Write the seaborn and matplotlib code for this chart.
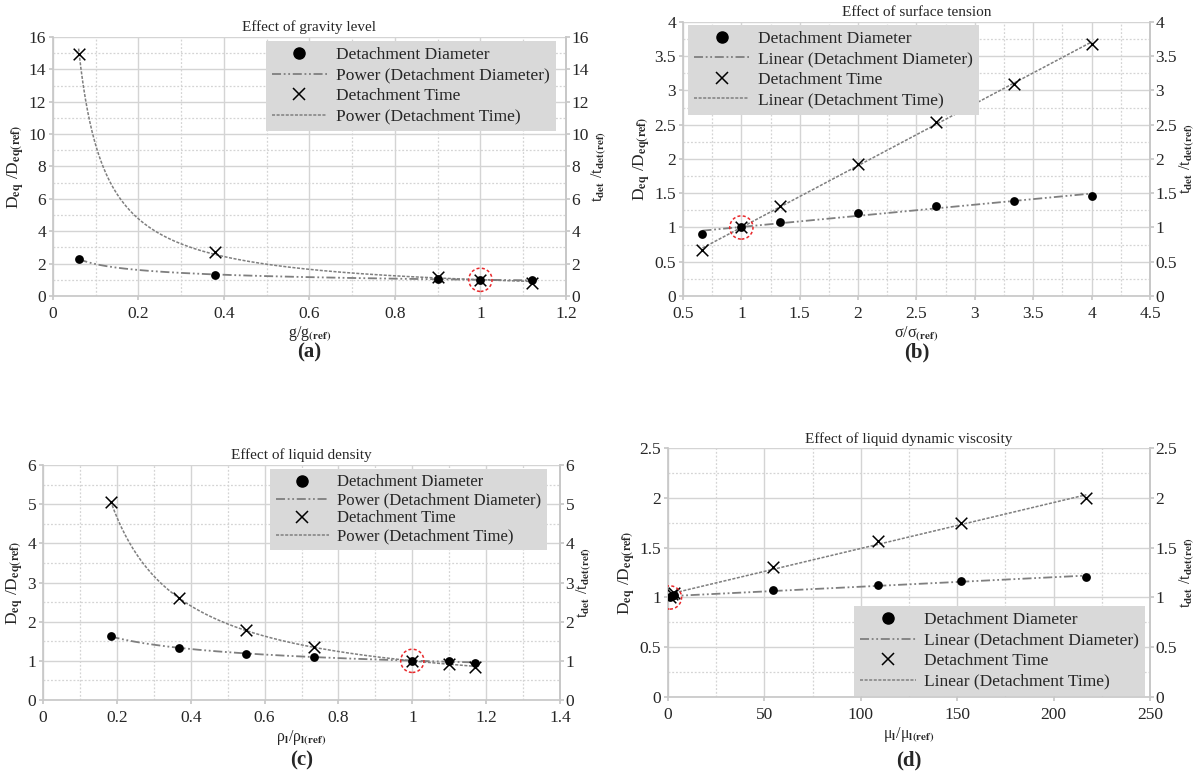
import numpy as np
import pandas as pd
import seaborn as sns
import matplotlib.pyplot as plt
from matplotlib.lines import Line2D
from matplotlib.ticker import MultipleLocator

# (a) gravity level
g_ratio = [0.06, 0.38, 0.90, 1.00, 1.12]
g_diam = [2.30, 1.31, 1.03, 1.00, 0.98]
g_time = [14.93, 2.69, 1.19, 1.00, 0.82]

# (b) surface tension
s_ratio = [0.667, 1.0, 1.333, 2.0, 2.667, 3.333, 4.0]
s_diam = [0.91, 1.00, 1.08, 1.21, 1.31, 1.385, 1.46]
s_time = [0.666, 1.00, 1.31, 1.93, 2.54, 3.10, 3.68]

# (c) liquid density
r_ratio = [0.183, 0.367, 0.55, 0.733, 1.0, 1.1, 1.17]
r_diam = [1.63, 1.33, 1.18, 1.10, 1.00, 0.99, 0.955]
r_time = [5.05, 2.60, 1.80, 1.36, 1.00, 0.91, 0.85]

# (d) liquid dynamic viscosity
m_ratio = [1.0, 2.0, 3.0, 54.3, 108.7, 152.0, 217.0]
m_diam = [1.00, 1.01, 1.02, 1.074, 1.128, 1.161, 1.21]
m_time = [1.00, 1.03, 1.05, 1.31, 1.567, 1.745, 2.00]

ref_x, ref_y = 1.0, 1.0

sns.set_theme(style='white')
plt.rcParams['font.family'] = ['Liberation Serif', 'DejaVu Serif']
plt.rcParams['mathtext.fontset'] = 'stix'

DIAM_LS = (0, (5, 1.5, 1, 1.5, 1, 1.5))
TIME_LS = (0, (2, 1))
GREY = '#7f7f7f'


def fit_line(x, y, kind):
    x = np.asarray(x, float)
    y = np.asarray(y, float)
    xs = np.linspace(x.min(), x.max(), 200)
    if kind == 'Power':
        b, a = np.polyfit(np.log(x), np.log(y), 1)
        return xs, np.exp(a) * xs ** b
    b, a = np.polyfit(x, y, 1)
    return xs, a + b * xs


def panel(rect, x, d, t, kind, title, xlabel, xlim, xmaj, ylim, ymaj,
          leg_loc, leg_anchor, leg_fs=12.5, leg_sp=0.25):
    ax = fig.add_axes(rect)
    df = pd.DataFrame({'x': x, 'diam': d, 'time': t})
    xs, yd = fit_line(x, d, kind)
    xt, yt = fit_line(x, t, kind)
    sns.lineplot(x=xs, y=yd, ax=ax, color=GREY, lw=1.3, linestyle=DIAM_LS)
    sns.lineplot(x=xt, y=yt, ax=ax, color=GREY, lw=1.1, linestyle=TIME_LS)
    sns.scatterplot(data=df, x='x', y='diam', ax=ax, color='black', s=40,
                    marker='o', edgecolor='black', linewidth=0, zorder=4)
    sns.scatterplot(data=df, x='x', y='time', ax=ax, color='black', s=70,
                    marker='x', linewidth=1.1, zorder=4)
    # reference case highlighted with a red dashed ring
    ax.scatter([ref_x], [ref_y], s=280, facecolors='none', edgecolors='#e8282b',
               linestyles=(0, (2, 1.5)), linewidths=1.1, zorder=5)

    ax.set_xlim(*xlim)
    ax.set_ylim(*ylim)
    ax.xaxis.set_major_locator(MultipleLocator(xmaj))
    ax.xaxis.set_minor_locator(MultipleLocator(xmaj / 2))
    ax.yaxis.set_major_locator(MultipleLocator(ymaj))
    ax.yaxis.set_minor_locator(MultipleLocator(ymaj / 2))
    ax.grid(True, which='major', color='#d4d4d4', lw=1.0)
    ax.grid(True, which='minor', color='#d4d4d4', lw=0.9, linestyle=(0, (1.5, 1.5)))
    ax.set_axisbelow(True)
    for sp in ax.spines.values():
        sp.set_color('#c8c8c8')
    ax.spines['top'].set_visible(False)
    ax.tick_params(which='major', direction='out', length=3, color='#c8c8c8',
                   labelsize=12.5, pad=2, left=True, bottom=True)
    ax.tick_params(axis='x', pad=4)
    ax.tick_params(which='minor', length=0)
    fmt = lambda v, p: f'{v:g}'
    ax.xaxis.set_major_formatter(fmt)
    ax.yaxis.set_major_formatter(fmt)

    ax.set_title(title, fontsize=11, pad=4)
    ax.set_xlabel(xlabel, fontsize=11.5, labelpad=2)
    ax.set_ylabel(r'D$_{\mathbf{eq}}$ /D$_{\mathbf{eq(ref)}}$', fontsize=12.5, labelpad=1)

    ax2 = ax.twinx()
    ax2.set_ylim(*ylim)
    ax2.yaxis.set_major_locator(MultipleLocator(ymaj))
    ax2.yaxis.set_major_formatter(fmt)
    ax2.grid(False)
    for sp in ax2.spines.values():
        sp.set_visible(False)
    ax2.spines['right'].set_visible(True)
    ax2.spines['right'].set_color('#c8c8c8')
    ax2.tick_params(direction='out', length=3, color='#c8c8c8', labelsize=12.5, pad=1, right=True)
    ax2.set_ylabel(r't$_{\mathbf{det}}$ /t$_{\mathbf{det(ref)}}$', fontsize=11.5, labelpad=0)

    handles = [
        Line2D([], [], ls='none', marker='o', color='black', ms=8),
        Line2D([], [], color=GREY, lw=1.3, ls=DIAM_LS),
        Line2D([], [], ls='none', marker='x', color='black', ms=9, mew=1.1),
        Line2D([], [], color=GREY, lw=1.1, ls=TIME_LS),
    ]
    labels = ['Detachment Diameter', f'{kind} (Detachment Diameter)',
              'Detachment Time', f'{kind} (Detachment Time)']
    leg = ax2.legend(handles, labels, loc=leg_loc, bbox_to_anchor=leg_anchor,
                     fontsize=leg_fs, frameon=True, fancybox=False, facecolor='#d9d9d9',
                     edgecolor='none', framealpha=1, handlelength=3.2, handletextpad=0.5,
                     labelspacing=leg_sp, borderpad=0.35, borderaxespad=0)
    leg.set_zorder(10)

    return rect[0] + rect[2] / 2


fig = plt.figure(figsize=(11.98, 7.74), dpi=100)

cx = panel([0.0442, 0.6176, 0.4282, 0.3346], g_ratio, g_diam, g_time, 'Power',
           'Effect of gravity level', r'g/g$_{\mathbf{(ref)}}$',
           (0, 1.2), 0.2, (0, 16), 2, 'upper right', (0.98, 0.985))
fig.text(cx, 1 - 352 / 774, '(a)', ha='center', va='center', fontsize=15, fontweight='bold')

cx = panel([0.5701, 0.6176, 0.3898, 0.354], s_ratio, s_diam, s_time, 'Linear',
           'Effect of surface tension', r'σ/σ$_{\mathbf{(ref)}}$',
           (0.5, 4.5), 0.5, (0, 4), 0.5, 'upper left', (0.01, 0.99))
fig.text(cx, 1 - 352 / 774, '(b)', ha='center', va='center', fontsize=15, fontweight='bold')

cx = panel([0.0359, 0.0956, 0.4316, 0.3036], r_ratio, r_diam, r_time, 'Power',
           'Effect of liquid density', r'ρ$_{\mathbf{l}}$/ρ$_{\mathbf{l(ref)}}$',
           (0, 1.4), 0.2, (0, 6), 1, 'upper right', (0.975, 0.985),
           leg_fs=12, leg_sp=0.12)
fig.text(cx, 1 - 760 / 774, '(c)', ha='center', va='center', fontsize=15, fontweight='bold')

cx = panel([0.5576, 0.0995, 0.4023, 0.3214], m_ratio, m_diam, m_time, 'Linear',
           'Effect of liquid dynamic viscosity', r'μ$_{\mathbf{l}}$/μ$_{\mathbf{l(ref)}}$',
           (0, 250), 50, (0, 2.5), 0.5, 'lower right', (0.99, 0.005))
fig.text(cx, 1 - 760 / 774, '(d)', ha='center', va='center', fontsize=15, fontweight='bold')

fig.savefig('out.png', dpi=100, facecolor='white')
